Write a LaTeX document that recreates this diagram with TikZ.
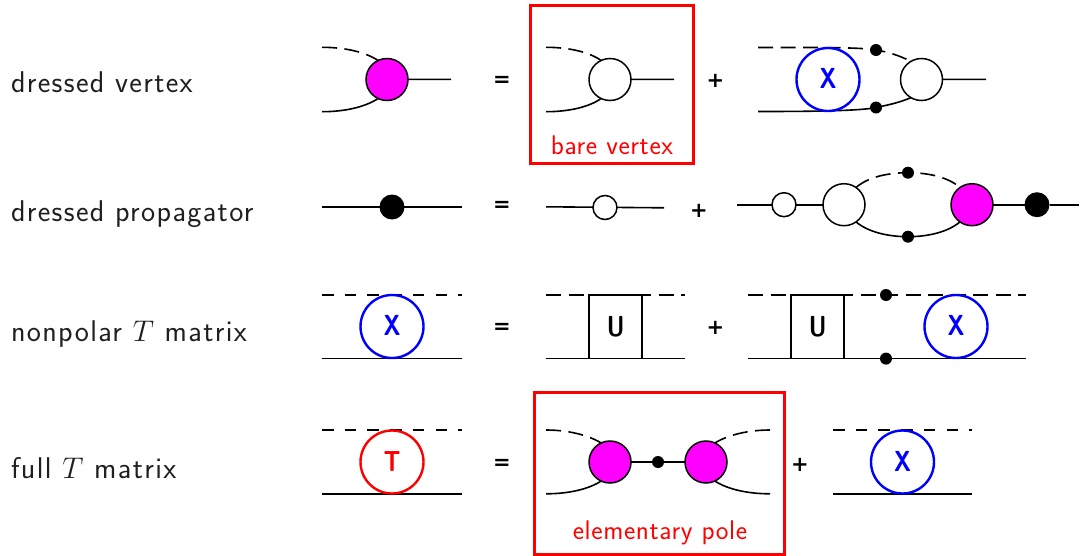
\documentclass[tikz,border=0pt]{standalone}
\usepackage{fontspec}
\newfontfamily\opfont{DejaVu Sans}
\newfontfamily\labfont{Latin Modern Sans}[LetterSpace=4.5]
\newfontfamily\redfont{Latin Modern Sans}[LetterSpace=2.3]
\definecolor{vtx}{rgb}{1,0,1}
\newcommand{\cond}[1]{\raisebox{1.2pt}{\scalebox{0.8}[1]{#1}}}
\newcommand{\bigT}{\scalebox{1.2}{$T$}}
\begin{document}
\begin{tikzpicture}[x=1pt,y=-1pt,
  ln/.style={line width=1.6pt,black},
  dsh/.style={line width=1.6pt,black,dash pattern=on 15pt off 7.5pt},
  dshs/.style={line width=1.6pt,black,dash pattern=on 11.5pt off 11.2pt},
  bl/.style={circle,draw=black,line width=1.5pt,fill=white,minimum size=42pt,inner sep=0pt,outer sep=0pt},
  mg/.style={bl,fill=vtx},
  sm/.style={bl,minimum size=24pt},
  fullblob/.style={circle,fill=black,minimum size=25pt,inner sep=0pt,outer sep=0pt},
  dotn/.style={circle,fill=black,minimum size=12pt,inner sep=0pt,outer sep=0pt},
  bigx/.style={circle,draw=blue,line width=2.4pt,minimum size=63pt,inner sep=0pt,outer sep=0pt,text=blue,font=\sffamily\bfseries\fontsize{29}{29}\selectfont},
  bigt/.style={bigx,draw=red,text=red},
  ubox/.style={rectangle,draw=black,fill=white,line width=1.6pt,minimum width=53pt,minimum height=63.5pt,inner sep=0pt,outer sep=0pt,font=\sffamily\bfseries\fontsize{29}{29}\selectfont},
  lab/.style={anchor=base west,inner sep=0pt,outer sep=0pt,text=black!88,font=\labfont\fontsize{30}{30}\selectfont},
  redlab/.style={anchor=base,inner sep=0pt,outer sep=0pt,text=red,font=\redfont\fontsize{27}{27}\selectfont},
  redbox/.style={rectangle,draw=red,line width=3pt,inner sep=0pt,outer sep=0pt},
  op/.style={inner sep=0pt,outer sep=0pt,font=\opfont\bfseries\fontsize{21}{21}\selectfont}]
\useasboundingbox (0,0) rectangle (1085,555);
% labels
\node[lab] (l1) at (11,92.7) {dressed vertex};
\node[lab] (l2) at (11,221.7) {dressed propagator};
\node[lab] (l3) at (11,341) {nonpolar \bigT\ matrix};
\node[lab] (l4) at (11,478) {full \bigT\ matrix};
% red boxes
\node[redbox,minimum width=163pt,minimum height=158pt] (rb1) at (612,84.5) {};
\node[redbox,minimum width=250pt,minimum height=162pt] (rb2) at (659.5,473) {};
\node[redlab] (rl1) at (612,154) {bare vertex};
\node[redlab] (rl2) at (660,539) {elementary pole};
% operators
\foreach \n/\s/\x/\y in {e1/=/502/81,e2/=/502/206,e3/=/502/328,e4/=/502/464,p1/+/715.3/81,p2/+/699/211,p3/+/715.3/328,p4/+/800/465}
  \node[op] (\n) at (\x,\y) {\s};
% row 1: dressed vertex
\coordinate (a1) at (322,47.3); \coordinate (a2) at (322,111.7); \coordinate (a3) at (451,79.3);
\node[mg] (A) at (387,79.5) {};
\draw[dsh] (a1) .. controls (345,47.3) and (365,52) .. (A.115);
\draw[ln] (a2) .. controls (345,111.7) and (365,107) .. (A.245);
\draw[ln] (A) -- (a3);
% bare vertex
\coordinate (b1) at (546,47.3); \coordinate (b2) at (546,111.7); \coordinate (b3) at (674,79.3);
\node[bl] (B) at (610,79.5) {};
\draw[dsh] (b1) .. controls (569,47.3) and (589,52) .. (B.115);
\draw[ln] (b2) .. controls (569,111.7) and (589,107) .. (B.245);
\draw[ln] (B) -- (b3);
% X + vertex
\coordinate (c1) at (758,47.5); \coordinate (c2) at (758,111.5); \coordinate (c3) at (986,79.3);
\node[bl] (C) at (921.5,79.5) {};
\node[dotn] (cd1) at (876,50) {};
\node[dotn] (cd2) at (876,107.5) {};
\draw[dsh] (c1) .. controls (810,47.5) and (860,47) .. (cd1.center) .. controls (888,52) and (898,55) .. (C.120);
\draw[ln] (c2) .. controls (810,111.5) and (860,111) .. (cd2.center) .. controls (888,105) and (898,103) .. (C.240);
\draw[ln] (C) -- (c3);
\node[bigx] (CX) at (828,79.5) {\cond{X}};
% row 2
\coordinate (d1) at (322,206.8); \coordinate (d2) at (462,206.8);
\draw[ln] (d1) -- (d2);
\node[fullblob] (D) at (392,207) {};
\coordinate (e5) at (546,206.8); \coordinate (e6) at (664,207.8);
\draw[ln] (e5) -- (e6);
\node[sm] (E) at (605,207.5) {};
\coordinate (f1) at (737,204.7); \coordinate (f2) at (1079,204.7);
\node[sm] (F1) at (784,204.7) {};
\node[bl] (F2) at (844,204.7) {};
\node[mg] (F3) at (972,204.7) {};
\node[fullblob] (F4) at (1037,204.7) {};
\node[dotn] (fd1) at (908,172.7) {};
\node[dotn] (fd2) at (908,236.7) {};
\draw[ln] (f1) -- (F1);
\draw[ln] (F1) -- (F2);
\draw[ln] (F3) -- (F4);
\draw[ln] (F4) -- (f2);
\draw[dsh] (F2.55) .. controls (868,177) and (888,172.7) .. (fd1.center) .. controls (928,172.7) and (948,177) .. (F3.125);
\draw[ln] (F2.-55) .. controls (868,232) and (888,236.7) .. (fd2.center) .. controls (928,236.7) and (948,232) .. (F3.-125);
% row 3
\coordinate (g1) at (322,294.8); \coordinate (g2) at (462,294.8); \coordinate (g3) at (322,358.3); \coordinate (g4) at (462,358.3);
\draw[dshs] (g1) -- (g2); \draw[ln] (g3) -- (g4);
\node[bigx] (G) at (392,326.5) {\cond{X}};
\coordinate (h1) at (546,294.8); \coordinate (h2) at (685,294.8); \coordinate (h3) at (546,358.3); \coordinate (h4) at (685,358.3);
\draw[dsh] (h1) -- (h2); \draw[ln] (h3) -- (h4);
\node[ubox] (H) at (615.7,326.6) {\cond{U}};
\coordinate (i1) at (748,294.8); \coordinate (i2) at (1026,294.8); \coordinate (i3) at (748,358.3); \coordinate (i4) at (1026,358.3);
\draw[dsh] (i1) -- (i2); \draw[ln] (i3) -- (i4);
\node[ubox] (I) at (817.7,326.6) {\cond{U}};
\node[dotn] (id1) at (886,295) {};
\node[dotn] (id2) at (886,358.6) {};
\node[bigx] (IX) at (956,326.5) {\cond{X}};
% row 4
\coordinate (j1) at (322,430); \coordinate (j2) at (462,430); \coordinate (j3) at (322,493.8); \coordinate (j4) at (462,493.8);
\draw[dshs] (j1) -- (j2); \draw[ln] (j3) -- (j4);
\node[bigt] (J) at (392,462) {\cond{T}};
\coordinate (k1) at (546,430); \coordinate (k2) at (546,493.8); \coordinate (k3) at (770,430); \coordinate (k4) at (770,493.8);
\node[mg] (K1) at (610,462) {};
\node[mg] (K2) at (706,462) {};
\node[dotn] (kd) at (658,462) {};
\draw[ln] (K1) -- (kd); \draw[ln] (kd) -- (K2);
\draw[dsh] (k1) .. controls (569,430) and (589,435.5) .. (K1.115);
\draw[ln] (k2) .. controls (569,493.8) and (589,489) .. (K1.245);
\draw[dsh] (k3) .. controls (747,430) and (727,435.5) .. (K2.65);
\draw[ln] (k4) .. controls (747,493.8) and (727,489) .. (K2.-65);
\coordinate (m1) at (833,430); \coordinate (m2) at (972,430); \coordinate (m3) at (833,493.8); \coordinate (m4) at (972,493.8);
\draw[dshs] (m1) -- (m2); \draw[ln] (m3) -- (m4);
\node[bigx] (M) at (902.5,462) {\cond{X}};
\end{tikzpicture}
\end{document}
